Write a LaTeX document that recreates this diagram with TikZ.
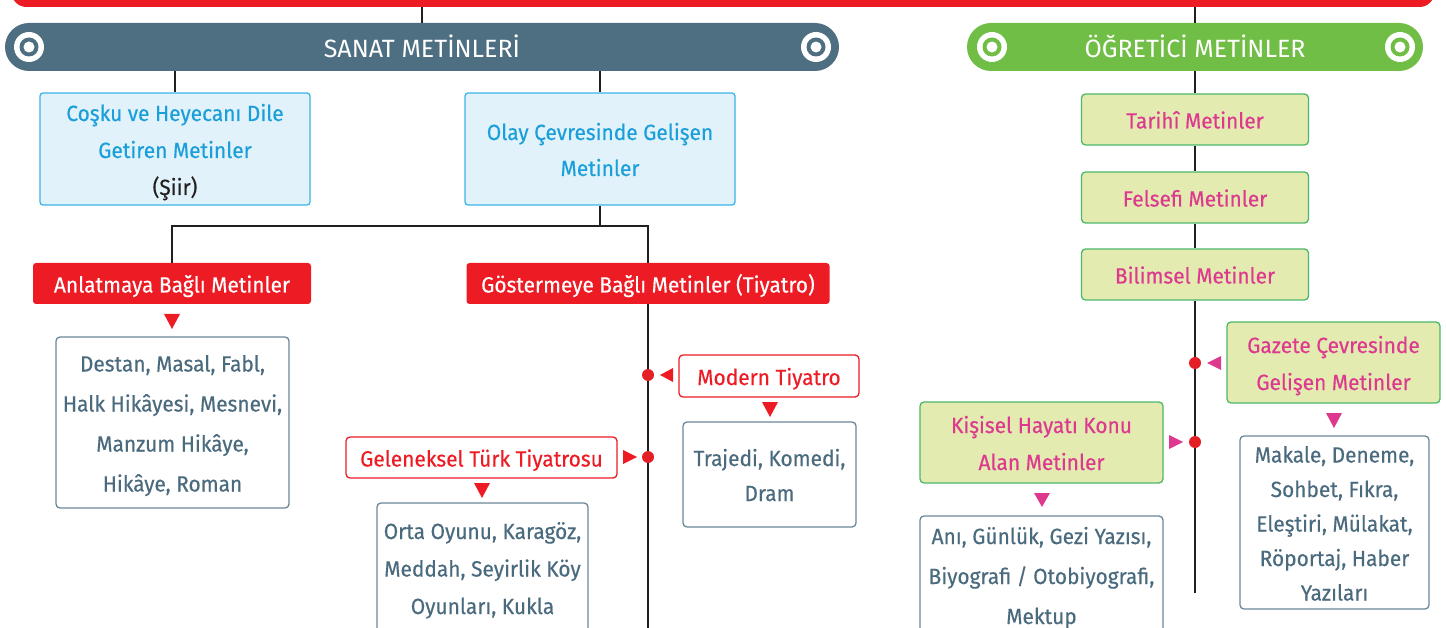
\documentclass[tikz,border=0pt]{standalone}
\usepackage{fontspec}
\setmainfont{Fira Sans}[FakeStretch=0.95,FakeBold=0.35]
\newfontfamily\hdrfont{Fira Sans}
\newcommand\tstrut{\rule{0pt}{24pt}}
\newcommand\bstrut{\rule[-6pt]{0pt}{0pt}}
\newcommand\htstrut{\rule{0pt}{28pt}}
\newcommand\hbstrut{\rule[-7pt]{0pt}{0pt}}
\definecolor{cred}{HTML}{ED1C24}
\definecolor{cslate}{HTML}{4E6F82}
\definecolor{cgreen}{HTML}{70BE45}
\definecolor{cblue}{HTML}{1B9FDB}
\definecolor{cbluefill}{HTML}{E1F2FA}
\definecolor{cblueline}{HTML}{3CB4E5}
\definecolor{cyel}{HTML}{E3EBB1}
\definecolor{cgline}{HTML}{4DB86A}
\definecolor{cmag}{HTML}{DD3A8F}
\definecolor{ctext}{HTML}{4A6A7E}
\definecolor{cboxline}{HTML}{6A8799}
\definecolor{cline}{HTML}{231F20}
\definecolor{cdot}{HTML}{E31E24}
\begin{document}
\begin{tikzpicture}[x=1pt,y=-1pt,
  conn/.style={draw=cline,line width=2.5pt},
  header/.style={fill=#1,rounded corners=24pt,minimum height=48pt,inner sep=0pt,text=white,font=\hdrfont\fontsize{25}{30}\selectfont},
  bluebox/.style={draw=cblueline,fill=cbluefill,line width=1.3pt,rounded corners=3pt,align=center,inner sep=0pt,text=cblue,font=\fontsize{22}{37}\selectfont},
  redbox/.style={fill=cred,rounded corners=3pt,inner sep=0pt,text=white,minimum height=41pt,font=\fontsize{22}{26}\selectfont},
  redline/.style={draw=cred,fill=white,line width=1.3pt,rounded corners=4pt,inner sep=0pt,text=cred,minimum height=42pt,font=\fontsize{22}{26}\selectfont},
  listbox/.style={draw=cboxline,fill=white,line width=1.3pt,rounded corners=4pt,align=center,inner sep=0pt,text=ctext,font=\fontsize{22}{#1}\selectfont},
  greenbox/.style={draw=cgline,fill=cyel,line width=1.3pt,rounded corners=4pt,align=center,inner sep=0pt,text=cmag,font=\fontsize{22}{37}\selectfont},
  dotnode/.style={circle,fill=cdot,minimum size=12pt,inner sep=0pt}
]
\useasboundingbox (0,0) rectangle (1446,628);
\clip (0,0) rectangle (1446,628);

% top bar
\node[fill=cred,rounded corners=15pt,minimum width=1423pt,minimum height=40pt,inner sep=0pt] (top) at (723,-13) {};

% headers
\node[header=cslate,minimum width=834pt] (sanat) at (422,47) {\htstrut SANAT METİNLERİ\hbstrut};
\node[header=cgreen,minimum width=456pt] (ogret) at (1195,47) {\htstrut ÖĞRETİCİ METİNLER\hbstrut};
\foreach \cx/\col in {29/cslate,816/cslate,992/cgreen,1400/cgreen}{
  \fill[white] (\cx,47) circle (15);
  \fill[\col] (\cx,47) circle (9.5);
  \fill[white] (\cx,47) circle (5.5);
}
\draw[conn] (top.south -| sanat.north) -- (sanat.north);
\draw[conn] (top.south -| ogret.north) -- (ogret.north);

% sanat branch
\node[bluebox,minimum width=270pt,minimum height=112pt] (cosku) at (175,149) {\tstrut Coşku ve Heyecanı Dile\\Getiren Metinler\\\textcolor{cline}{(Şiir)}\bstrut};
\node[bluebox,minimum width=270pt,minimum height=112pt,font=\fontsize{22}{36}\selectfont] (olay) at (600,149) {\tstrut Olay Çevresinde Gelişen\\Metinler\bstrut};
\draw[conn] (cosku.north |- sanat.south) -- (cosku.north);
\draw[conn] (olay.north |- sanat.south) -- (olay.north);

\node[redbox,minimum width=278pt] (anlat) at (172,283.5) {\tstrut Anlatmaya Bağlı Metinler\bstrut};
\node[redbox,minimum width=363pt] (goster) at (648,283.5) {\tstrut Göstermeye Bağlı Metinler (Tiyatro)\bstrut};
\coordinate (split) at (600,226);
\draw[conn] (olay.south) -- (split);
\draw[conn] (anlat.north) |- (split) -| (goster.north);

\fill[cred] (164,314) -- (180,314) -- (172,329) -- cycle;
\node[listbox=40,minimum width=233pt,minimum height=171pt] (destan) at (172.5,422.5) {\tstrut Destan, Masal, Fabl,\\Halk Hikâyesi, Mesnevi,\\Manzum Hikâye,\\Hikâye, Roman\bstrut};

\coordinate (gend) at (648,640);
\draw[conn] (goster.south) -- (gend);
\node[dotnode] (d1) at (648,375) {};
\node[dotnode] (d2) at (648,457) {};

\node[redline,minimum width=180pt] (modern) at (769,376) {\tstrut Modern Tiyatro\bstrut};
\fill[cred] (660,375) -- (673,368) -- (673,382) -- cycle;
\fill[cred] (762,402) -- (778,402) -- (770,417) -- cycle;
\node[listbox=35,minimum width=173pt,minimum height=105pt] (trajedi) at (769.5,474.5) {\tstrut Trajedi, Komedi,\\Dram\bstrut};

\node[redline,minimum width=271pt,minimum height=41pt] (gelen) at (481.5,457.5) {\tstrut Geleneksel Türk Tiyatrosu\bstrut};
\fill[cred] (623,450) -- (637,457) -- (623,464) -- cycle;
\fill[cred] (474,483) -- (490,483) -- (482,498) -- cycle;
\node[listbox=37.5,minimum width=211pt,minimum height=129pt] (orta) at (482.5,567.5) {\tstrut Orta Oyunu, Karagöz,\\Meddah, Seyirlik Köy\\Oyunları, Kukla\bstrut};

% ogretici branch
\node[greenbox,minimum width=227pt,minimum height=51pt] (tarihi) at (1195,119.5) {\tstrut Tarihî Metinler\bstrut};
\node[greenbox,minimum width=227pt,minimum height=51pt] (felsefi) at (1195,197.5) {\tstrut Felsefi Metinler\bstrut};
\node[greenbox,minimum width=227pt,minimum height=51pt] (bilim) at (1195,274.5) {\tstrut Bilimsel Metinler\bstrut};
\draw[conn] (ogret.south) -- (tarihi.north);
\draw[conn] (tarihi.south) -- (felsefi.north);
\draw[conn] (felsefi.south) -- (bilim.north);
\coordinate (oend) at (1195,593);
\draw[conn] (bilim.south) -- (oend);
\node[dotnode] (d3) at (1195,363) {};
\node[dotnode] (d4) at (1195,442) {};

\node[greenbox,minimum width=213pt,minimum height=81pt] (gazete) at (1333.5,362.5) {\tstrut Gazete Çevresinde\\Gelişen Metinler\bstrut};
\fill[cmag] (1207,363) -- (1221,356) -- (1221,370) -- cycle;
\fill[cmag] (1326,413) -- (1342,413) -- (1334,428) -- cycle;
\node[listbox=34.5,minimum width=189pt,minimum height=173pt] (makale) at (1334.5,522.5) {\tstrut Makale, Deneme,\\Sohbet, Fıkra,\\Eleştiri, Mülakat,\\Röportaj, Haber\\Yazıları\bstrut};

\node[greenbox,minimum width=243pt,minimum height=81pt] (kisisel) at (1041.5,442.5) {\tstrut Kişisel Hayatı Konu\\Alan Metinler\bstrut};
\fill[cmag] (1169,435) -- (1183,442) -- (1169,449) -- cycle;
\fill[cmag] (1034,493) -- (1050,493) -- (1042,507) -- cycle;
\node[listbox=40,minimum width=243pt,minimum height=118pt] (ani) at (1041.5,575) {\tstrut Anı, Günlük, Gezi Yazısı,\\Biyografi / Otobiyografi,\\Mektup\bstrut};
\end{tikzpicture}
\end{document}
